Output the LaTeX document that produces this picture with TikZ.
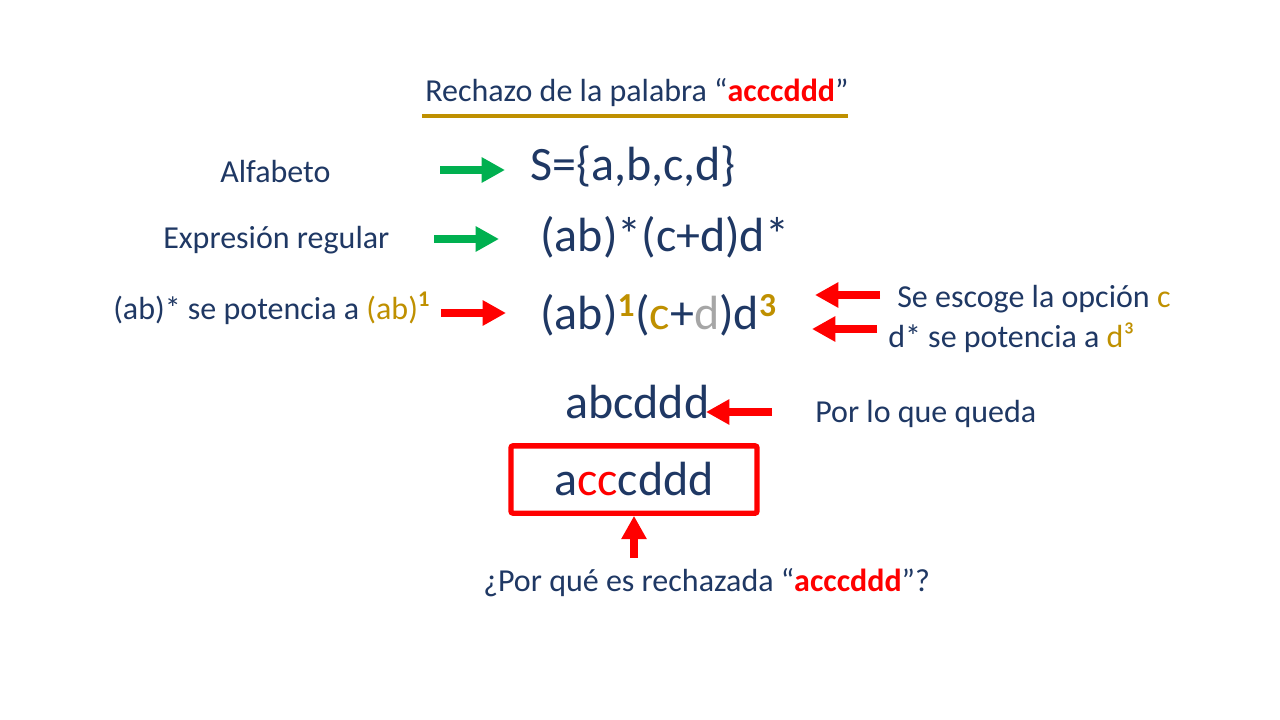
\documentclass[tikz,border=0pt]{standalone}
\usepackage{fontspec}
\setmainfont{Carlito}
\usetikzlibrary{arrows.meta}
\definecolor{navy}{HTML}{1F3864}
\definecolor{gold}{HTML}{BF9000}
\definecolor{grn}{HTML}{00B050}
\definecolor{rd}{HTML}{FF0000}
\definecolor{gry}{HTML}{A6A6A6}
\tikzset{
  lbl/.style={font=\fontsize{24}{29}\selectfont, text=navy, anchor=base west, inner sep=0pt},
  big/.style={font=\fontsize{36}{43}\selectfont, text=navy, anchor=base west, inner sep=0pt},
  fatarrow/.style={line width=6pt, -{Triangle[width=18pt,length=17.5pt]}},
  garrow/.style={fatarrow, draw=grn, fill=grn},
  rarrow/.style={fatarrow, draw=rd, fill=rd},
}
\newcommand{\gsup}[1]{\textsuperscript{\bfseries\color{gold}#1}}
\begin{document}
\begin{tikzpicture}[x=0.75pt, y=-0.75pt]
\useasboundingbox[fill=white] (0,0) rectangle (1280,720);
% title
\node[lbl] (title) at (425,102) {Rechazo de la palabra “\textcolor{rd}{\bfseries acccddd}”};
\coordinate (ulL) at (422,116);
\coordinate (ulR) at (848,116);
\draw[gold, line width=3pt] (ulL) -- (ulR);
% row 1
\node[lbl] (alf) at (220,183) {Alfabeto};
\node[big] (sig) at (530,181) {S=\{a,b,c,d\}};
\coordinate (g1s) at (440,170);
\coordinate (g1e) at (505,170);
\draw[garrow] (g1s) -- (g1e);
% row 2
\node[lbl] (exp) at (163,248) {Expresión regular};
\node[big] (re) at (540,252) {(ab)*(c+d)d*};
\coordinate (g2s) at (434,239);
\coordinate (g2e) at (499,239);
\draw[garrow] (g2s) -- (g2e);
% row 3
\node[lbl] (pot) at (113,319) {(ab)* se potencia a \textcolor{gold}{(ab)\textsuperscript{\bfseries 1}}};
\node[big] (form) at (540,329) {(ab)\gsup{1}(\textcolor{gold}{c}+\textcolor{gry}{d})d\gsup{3}};
\coordinate (r1s) at (441,313);
\coordinate (r1e) at (506,313);
\draw[rarrow] (r1s) -- (r1e);
\node[lbl] (opc) at (897,307) {Se escoge la opción \textcolor{gold}{c}};
\node[lbl] (dpot) at (888,347) {d* se potencia a \textcolor{gold}{d³}};
\coordinate (r2s) at (880,295);
\coordinate (r2e) at (815,295);
\draw[rarrow] (r2s) -- (r2e);
\coordinate (r3s) at (877,329);
\coordinate (r3e) at (812,329);
\draw[rarrow] (r3s) -- (r3e);
% row 4
\node[big] (res) at (565,418) {abcddd};
\node[lbl] (plq) at (815,422) {Por lo que queda};
\coordinate (r4s) at (772,412);
\coordinate (r4e) at (706,412);
\draw[rarrow] (r4s) -- (r4e);
% box
\node[draw=rd, line width=4pt, rounded corners=1.5pt, minimum width=184.5pt, minimum height=50.5pt,
      inner sep=0pt, font=\fontsize{36}{43}\selectfont, text=navy] (box) at (634,479.5)
      {a\textcolor{rd}{cc}cddd};
\coordinate (r5s) at (634,558);
\draw[rarrow] (r5s) -- (box.south);
% question
\node[lbl] (q) at (483,591) {¿Por qué es rechazada “\textcolor{rd}{\bfseries acccddd}”?};
\end{tikzpicture}
\end{document}
